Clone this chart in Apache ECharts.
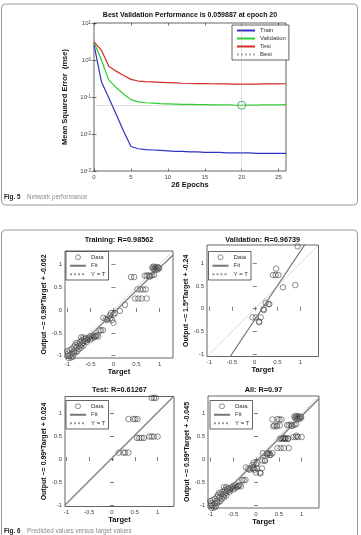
<!DOCTYPE html>
<html>
<head>
<meta charset="utf-8">
<script src="https://cdn.jsdelivr.net/npm/echarts@6/dist/echarts.min.js"></script>
<style>
    html, body { margin: 0; padding: 0; background: #fff; }
    #chart { width: 361px; height: 535px; }
</style>
</head>
<body>
<div id="chart"></div>
<script>
    // ---- Fig. 5: mean squared error per epoch
    const epochs = [0,1,2,3,4,5,6,7,8,9,10,11,12,13,14,15,16,17,18,19,20,21,22,23,24,25,26];
    const trainMse = [2.6,0.26,0.095,0.034,0.012,0.0046,0.0040,0.0038,0.0037,0.0036,0.0035,0.0034,0.0034,0.0033,0.0033,0.0032,0.0032,0.0032,0.0031,0.0031,0.0031,0.0031,0.0030,0.0030,0.0030,0.0030,0.0030];
    const validationMse = [3.0,1.0,0.29,0.18,0.12,0.085,0.074,0.07,0.068,0.066,0.065,0.064,0.063,0.063,0.062,0.062,0.061,0.061,0.061,0.060,0.059887,0.060,0.060,0.061,0.061,0.061,0.062];
    const testMse = [3.1,1.85,0.68,0.5,0.38,0.3,0.27,0.26,0.255,0.25,0.245,0.24,0.235,0.232,0.23,0.23,0.228,0.226,0.225,0.224,0.222,0.222,0.223,0.225,0.226,0.227,0.228];
    const bestEpoch = 20;
    const bestMse = 0.059887;
    const epochTicks = [0,5,10,15,20,25];

    // ---- Fig. 6: regression panels, points are [target, output]
    const trainingPts = [
        [0.84,0.93],[0.87,0.95],[0.9,0.93],[0.93,0.94],[0.96,0.92],[0.99,0.91],[0.86,0.9],[0.89,0.88],[0.92,0.89],[0.95,0.88],[0.98,0.93],
        [0.68,0.75],[0.72,0.75],[0.76,0.76],[0.8,0.74],[0.84,0.76],[0.88,0.77],[0.78,0.73],
        [0.38,0.72],[0.45,0.72],
        [0.52,0.45],[0.58,0.45],[0.64,0.45],[0.7,0.45],
        [0.47,0.25],[0.54,0.25],[0.61,0.25],[0.72,0.25],
        [0.25,0.11],[0.14,-0.02],
        [-0.05,-0.07],[0.0,-0.1],[0.03,-0.07],[-0.08,-0.12],
        [-0.22,-0.17],[-0.17,-0.2],[-0.12,-0.19],[-0.07,-0.18],[-0.03,-0.22],[-0.14,-0.22],
        [0.0,-0.28],
        [-0.3,-0.44],[-0.27,-0.45],[-0.23,-0.44],
        [-0.5,-0.57],[-0.45,-0.56],[-0.4,-0.58],[-0.36,-0.55],[-0.33,-0.58],[-0.42,-0.6],[-0.38,-0.57],
        [-0.7,-0.6],[-0.65,-0.6],[-0.6,-0.62],[-0.55,-0.63],[-0.5,-0.65],[-0.68,-0.66],[-0.62,-0.68],[-0.58,-0.7],[-0.73,-0.7],[-0.66,-0.72],[-0.53,-0.6],[-0.47,-0.62],[-0.57,-0.66],[-0.63,-0.64],
        [-0.8,-0.72],[-0.76,-0.75],[-0.72,-0.78],[-0.69,-0.76],[-0.85,-0.8],[-0.8,-0.82],[-0.75,-0.85],[-0.9,-0.85],[-0.86,-0.9],[-0.78,-0.9],[-0.7,-0.82],[-0.95,-0.88],[-0.65,-0.78],[-0.83,-0.76],
        [-0.98,-0.95],[-0.95,-1.0],[-0.9,-0.95],[-0.92,-1.04],[-0.97,-1.05],[-0.85,-0.95],[-0.82,-0.92],[-1.0,-0.9],[-0.88,-1.02],[-0.99,-1.0]
    ];
    const validationPts = [
        [0.94,1.37],[0.47,0.88],[0.4,0.74],[0.46,0.74],[0.52,0.74],[0.62,0.47],[0.89,0.52],
        [0.24,0.13],[0.3,0.1],[0.32,0.1],[0.19,-0.01],[0.2,-0.03],
        [-0.05,-0.19],[0.02,-0.19],[0.13,-0.19],[0.09,-0.28],[0.1,-0.3]
    ];
    const testPts = [
        [0.87,1.33],[0.92,1.33],[0.96,1.33],
        [0.36,0.87],[0.47,0.87],[0.51,0.87],[0.56,0.87],
        [0.55,0.46],[0.6,0.46],[0.65,0.46],[0.7,0.46],
        [0.82,0.49],[0.87,0.49],[0.92,0.49],[1.0,0.49],
        [0.15,0.14],[0.25,0.14],[0.29,0.14],[0.36,0.14]
    ];
    // the "All" panel shows the training points plus these
    const allExtraPts = [
        [0.47,0.88],[0.36,0.87],[0.51,0.87],[0.56,0.87],
        [0.4,0.74],[0.46,0.74],[0.52,0.74],
        [0.62,0.47],[0.89,0.52],[0.55,0.46],[0.6,0.46],[0.65,0.46],[0.7,0.46],
        [0.82,0.49],[0.87,0.49],[0.92,0.49],[1.0,0.49],
        [0.15,0.14],[0.25,0.14],[0.29,0.14],[0.36,0.14],[0.24,0.13],[0.3,0.1],[0.32,0.1],
        [0.19,-0.01],[0.2,-0.03],[-0.05,-0.19],[0.02,-0.19],[0.13,-0.19],[0.09,-0.28],[0.1,-0.3]
    ];
    const panelNames = ['Training', 'Validation', 'Test', 'All'];
    const panelR = ['0.98562', '0.96739', '0.61267', '0.97'];
    const fitSlope = [0.98, 1.5, 0.99, 0.99];
    const fitOffset = [-0.062, -0.24, 0.024, -0.045];
    const regTicks = [-1, -0.5, 0, 0.5, 1];

    const panelPts = [trainingPts, validationPts, testPts, trainingPts.concat(allExtraPts)];

    // layout: axes boxes in px and their (equal) x/y limits
    const boxes = [
        { left: 65, top: 251, width: 108, height: 107, lim: [-1.05, 1.29] },
        { left: 207, top: 245, width: 111.5, height: 111.5, lim: [-1.05, 1.4] },
        { left: 65, top: 396.5, width: 109, height: 110, lim: [-1.03, 1.36] },
        { left: 208, top: 396, width: 111, height: 112, lim: [-1.05, 1.38] }
    ];
    const legendPos = [[66, 251.5], [208.5, 251.5], [66, 400.5], [210, 400.5]];

    const FONT = 'Liberation Sans, Arial, sans-serif';
    const tickLabel = { fontSize: 6, color: '#444', fontFamily: FONT };
    const nameStyle = { fontSize: 7.5, fontWeight: 'bold', color: '#111', fontFamily: FONT };
    const tickLine = { color: '#222', width: 0.6 };
    // line entries in the legends: hide the symbol ECharts puts in the middle
    const noDot = { opacity: 0 };

    let chart = echarts.init(document.getElementById('chart'));

    let grids = [{ left: 94, top: 23, width: 192, height: 148, show: true, borderColor: '#222', borderWidth: 0.7 }];
    let xAxes = [{
        type: 'value', gridIndex: 0, min: 0, max: 26,
        axisLine: { show: false }, splitLine: { show: false },
        axisTick: { inside: true, length: 2.5, customValues: epochTicks, lineStyle: tickLine },
        axisLabel: Object.assign({ customValues: epochTicks, margin: 3 }, tickLabel),
        name: '26 Epochs', nameLocation: 'middle', nameGap: 10, nameTextStyle: nameStyle
    }, {
        // mirrored ticks along the top edge
        type: 'value', gridIndex: 0, position: 'top', min: 0, max: 26,
        axisLine: { show: false }, splitLine: { show: false }, axisLabel: { show: false },
        axisTick: { inside: true, length: 2.5, customValues: epochTicks, lineStyle: tickLine }
    }];
    let yAxes = [{
        type: 'log', gridIndex: 0, min: 0.001, max: 10, logBase: 10,
        axisLine: { show: false }, splitLine: { show: false },
        axisTick: { inside: true, length: 2.5, lineStyle: tickLine },
        axisLabel: {
            margin: 3,
            formatter: function (v) { return '{b|10}{e|' + Math.round(Math.log10(v)) + '}'; },
            rich: {
                b: { fontSize: 6, color: '#444', fontFamily: FONT, padding: [3, 0, 0, 0], lineHeight: 6, verticalAlign: 'bottom' },
                e: { fontSize: 4.5, color: '#444', fontFamily: FONT, lineHeight: 5, verticalAlign: 'top' }
            }
        },
        name: 'Mean Squared Error  (mse)', nameLocation: 'middle', nameGap: 15, nameTextStyle: nameStyle
    }, {
        type: 'log', gridIndex: 0, position: 'right', min: 0.001, max: 10, logBase: 10,
        axisLine: { show: false }, splitLine: { show: false }, axisLabel: { show: false },
        axisTick: { inside: true, length: 2.5, lineStyle: tickLine }
    }];
    let series = [
        { name: 'Train', type: 'line', xAxisIndex: 0, yAxisIndex: 0, symbol: 'none',
          data: epochs.map((e, i) => [e, trainMse[i]]), lineStyle: { color: '#2f32c0', width: 1.2 }, itemStyle: { color: '#2f32c0' } },
        { name: 'Validation', type: 'line', xAxisIndex: 0, yAxisIndex: 0, symbol: 'none',
          data: epochs.map((e, i) => [e, validationMse[i]]), lineStyle: { color: '#2bcf2b', width: 1.2 }, itemStyle: { color: '#2bcf2b' } },
        { name: 'Test', type: 'line', xAxisIndex: 0, yAxisIndex: 0, symbol: 'none',
          data: epochs.map((e, i) => [e, testMse[i]]), lineStyle: { color: '#d42a2a', width: 1.2 }, itemStyle: { color: '#d42a2a' } },
        { name: 'Best', type: 'line', xAxisIndex: 0, yAxisIndex: 0, symbol: 'none',
          data: [[bestEpoch, bestMse]], lineStyle: { color: '#aaa', width: 0.8, type: 'dotted' }, itemStyle: { color: '#aaa' },
          markLine: { silent: true, symbol: ['none', 'none'], label: { show: false },
                      lineStyle: { color: '#b0b0b0', width: 0.8, type: 'dotted' },
                      data: [{ xAxis: bestEpoch }, { yAxis: bestMse }] } },
        { name: 'bestPoint', type: 'scatter', xAxisIndex: 0, yAxisIndex: 0, symbol: 'circle', symbolSize: 8,
          data: [[bestEpoch, bestMse]], itemStyle: { color: 'rgba(0,0,0,0)', borderColor: '#1f9a3a', borderWidth: 1 }, z: 5 }
    ];
    let legends = [{
        orient: 'vertical', left: 232, top: 25,
        data: ['Train', 'Validation', 'Test', 'Best'].map(n => ({ name: n, itemStyle: noDot })),
        backgroundColor: '#fff', borderColor: '#222', borderWidth: 0.7, padding: [2, 3, 2, 4],
        itemWidth: 18, itemHeight: 5, itemGap: 1, selectedMode: false,
        textStyle: { fontSize: 6, color: '#333', fontFamily: FONT, lineHeight: 7 }
    }];

    let graphics = [
        { type: 'rect', shape: { x: 1.5, y: 4, width: 356, height: 201, r: 4 }, style: { fill: 'none', stroke: '#9a9a9a', lineWidth: 1 } },
        { type: 'rect', shape: { x: 1.5, y: 230, width: 356, height: 330, r: 4 }, style: { fill: 'none', stroke: '#9a9a9a', lineWidth: 1 } },
        { type: 'text', x: 190, y: 15, style: { text: 'Best Validation Performance is ' + bestMse + ' at epoch ' + bestEpoch,
            align: 'center', verticalAlign: 'middle', font: 'bold 7px ' + FONT, fill: '#111' } },
        { type: 'text', x: 4, y: 197.5, style: { text: '{b|Fig. 5}  {n|Network performance}', verticalAlign: 'middle',
            rich: { b: { font: 'bold 6.3px ' + FONT, fill: '#222' }, n: { font: '6.3px ' + FONT, fill: '#8a8a8a' } } } },
        { type: 'text', x: 4, y: 531, style: { text: '{b|Fig. 6}  {n|Predicted values versus target values}', verticalAlign: 'middle',
            rich: { b: { font: 'bold 6.3px ' + FONT, fill: '#222' }, n: { font: '6.3px ' + FONT, fill: '#8a8a8a' } } } }
    ];

    panelNames.forEach(function (name, i) {
        const g = i + 1;
        const b = boxes[i];
        const lim = b.lim;
        grids.push({ left: b.left, top: b.top, width: b.width, height: b.height, show: true, borderColor: '#222', borderWidth: 0.7 });
        const axisCommon = {
            type: 'value', gridIndex: g, min: lim[0], max: lim[1],
            axisLine: { show: false }, splitLine: { show: false },
            axisTick: { inside: true, length: 2, customValues: regTicks, lineStyle: tickLine },
            axisLabel: Object.assign({ customValues: regTicks, margin: 3 }, tickLabel)
        };
        const mirror = Object.assign({}, axisCommon, { axisLabel: { show: false } });
        // MATLAB boxes carry ticks on all four sides; the second axis of each pair is only for ticks
        xAxes.push(Object.assign({}, axisCommon, { position: 'bottom', name: 'Target', nameLocation: 'middle', nameGap: 9, nameTextStyle: nameStyle }));
        xAxes.push(Object.assign({}, mirror, { position: 'top' }));
        yAxes.push(Object.assign({}, axisCommon, {
            position: 'left',
            name: 'Output ~= ' + fitSlope[i] + '*Target + ' + fitOffset[i],
            nameLocation: 'middle', nameGap: 16, nameTextStyle: Object.assign({}, nameStyle, { fontSize: 7 })
        }));
        yAxes.push(Object.assign({}, mirror, { position: 'right' }));
        const ax = 2 * g;
        series.push({
            name: 'Data', type: 'scatter', xAxisIndex: ax, yAxisIndex: ax, symbol: 'circle', symbolSize: 5.5,
            data: panelPts[i], itemStyle: { color: 'rgba(0,0,0,0)', borderColor: '#333', borderWidth: 0.7 }
        });
        series.push({
            name: 'Fit', type: 'line', xAxisIndex: ax, yAxisIndex: ax, symbol: 'none', clip: true,
            data: [[lim[0], fitSlope[i] * lim[0] + fitOffset[i]], [lim[1], fitSlope[i] * lim[1] + fitOffset[i]]],
            lineStyle: { color: '#777', width: 1.2 }, itemStyle: { color: '#777' }, z: 3
        });
        series.push({
            name: 'Y = T', type: 'line', xAxisIndex: ax, yAxisIndex: ax, symbol: 'none', clip: true,
            data: [[lim[0], lim[0]], [lim[1], lim[1]]],
            lineStyle: { color: '#999', width: 0.8, type: 'dotted' }, itemStyle: { color: '#999' }, z: 3
        });
        legends.push({
            orient: 'vertical', left: legendPos[i][0], top: legendPos[i][1],
            data: ['Data', { name: 'Fit', itemStyle: noDot }, { name: 'Y = T', itemStyle: noDot }],
            backgroundColor: '#fff', borderColor: '#222', borderWidth: 0.7, padding: [2, 3, 2, 3],
            itemWidth: 16, itemHeight: 5, itemGap: 1, selectedMode: false,
            itemStyle: { borderWidth: 0.7 },
            textStyle: { fontSize: 6, color: '#333', fontFamily: FONT, lineHeight: 7.5 }
        });
        graphics.push({ type: 'text', x: b.left + b.width / 2, y: i < 2 ? 240 : 389.5,
            style: { text: name + ': R=' + panelR[i], align: 'center', verticalAlign: 'middle', font: 'bold 7.3px ' + FONT, fill: '#111' } });
    });

    chart.setOption({
        animation: false,
        backgroundColor: '#fff',
        grid: grids,
        xAxis: xAxes,
        yAxis: yAxes,
        legend: legends,
        series: series,
        graphic: graphics
    });
</script>
</body>
</html>
